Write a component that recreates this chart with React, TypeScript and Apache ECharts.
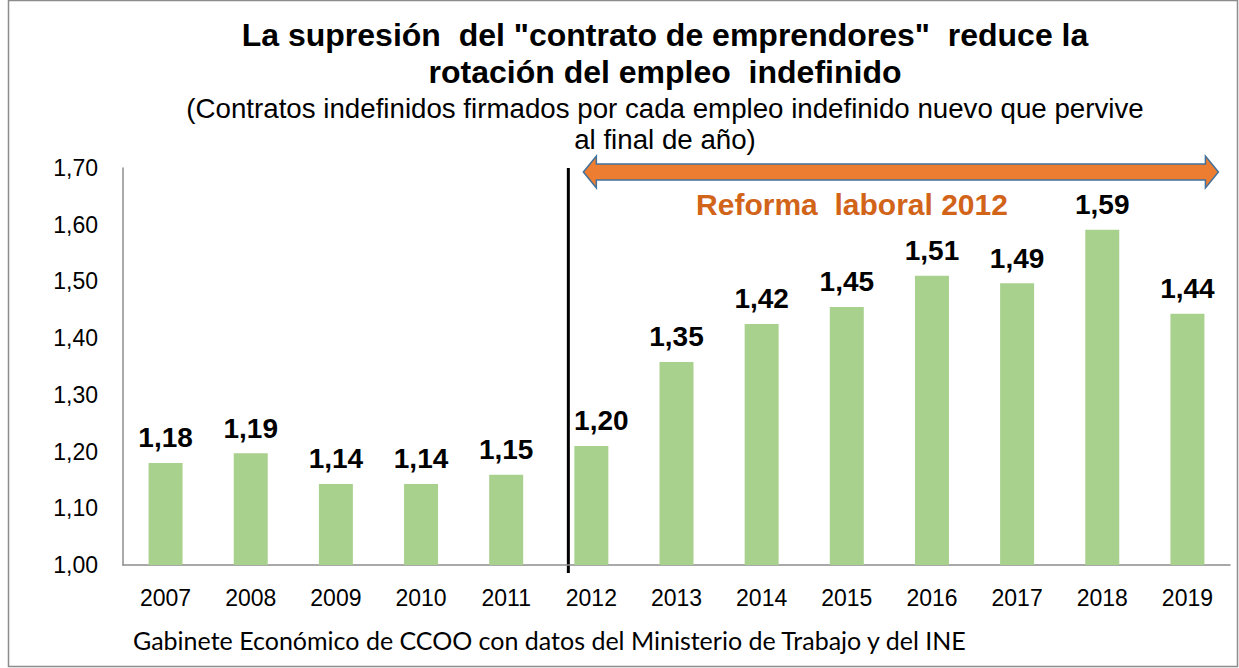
import React, { useEffect, useRef } from "react";
import * as echarts from "echarts";

const years = ["2007","2008","2009","2010","2011","2012","2013","2014","2015","2016","2017","2018","2019"];
const values = [1.18, 1.197, 1.143, 1.143, 1.159, 1.21, 1.358, 1.425, 1.455, 1.51, 1.497, 1.591, 1.443];
const valueLabels = ["1,18","1,19","1,14","1,14","1,15","1,20","1,35","1,42","1,45","1,51","1,49","1,59","1,44"];
const yTicks = { min: 1.0, max: 1.7, interval: 0.1 };
const titleLines = ['La supresión  del "contrato de emprendores"  reduce la', "rotación del empleo  indefinido"];
const subtitleLines = ["(Contratos indefinidos firmados por cada empleo indefinido nuevo que pervive", "al final de año)"];
const reformLabel = "Reforma  laboral 2012";
const sourceText = "Gabinete Económico de CCOO con datos del Ministerio de Trabajo y del INE";

const FONT = "'Liberation Sans', Arial, sans-serif";

export default function App() {
  const ref = useRef<HTMLDivElement>(null);
  useEffect(() => {
    if (!ref.current) return;
    const chart = echarts.init(ref.current, null, { renderer: "svg" });
    const fmt = (v: number) => v.toFixed(2).replace(".", ",");
    const barData = values.map((v, i) =>
      years[i] === "2012" ? { value: v, label: { offset: [10, 0] } } : v
    );
    chart.setOption({
      animation: false,
      grid: { left: 123, right: 9, top: 168, bottom: 103 },
      xAxis: {
        type: "category",
        data: years,
        axisLine: { lineStyle: { color: "#8c8c8c", width: 1.5 } },
        axisTick: { show: false },
        axisLabel: { color: "#000", fontSize: 23, fontFamily: FONT, margin: 21 },
      },
      yAxis: {
        type: "value",
        min: yTicks.min,
        max: yTicks.max,
        interval: yTicks.interval,
        axisLine: { show: true, lineStyle: { color: "#8c8c8c", width: 1.5 } },
        axisTick: { show: false },
        splitLine: { show: false },
        axisLabel: { color: "#000", fontSize: 23, fontFamily: FONT, margin: 25, formatter: (v: number) => fmt(v) },
      },
      series: [
        {
          type: "bar",
          data: barData,
          barWidth: 34,
          itemStyle: { color: "#A9D18E" },
          label: {
            show: true,
            position: "top",
            distance: 11,
            color: "#000",
            fontWeight: "bold",
            fontSize: 28,
            fontFamily: FONT,
            formatter: (p: any) => valueLabels[p.dataIndex],
          },
        },
      ],
    });

    const x2012 = chart.convertToPixel({ xAxisIndex: 0 }, "2012") as number;
    const x2019 = chart.convertToPixel({ xAxisIndex: 0 }, "2019") as number;
    const yTop = chart.convertToPixel({ yAxisIndex: 0 }, yTicks.max) as number;
    const yBase = chart.convertToPixel({ yAxisIndex: 0 }, yTicks.min) as number;
    const lineX = x2012 - 23;
    const aL = x2012 - 8;
    const aR = x2019 + 31;
    const cy = yTop + 4;
    const sh = 8, hh = 16, hl = 13;

    chart.setOption({
      graphic: [
        { type: "rect", shape: { x: 8.5, y: 0.5, width: 1229, height: 666 }, style: { fill: "none", stroke: "#8c8c8c", lineWidth: 1.5 }, silent: true },
        { type: "text", x: 665, y: 35, style: { text: titleLines[0], font: `bold 32px ${FONT}`, fill: "#000", align: "center", verticalAlign: "middle" } },
        { type: "text", x: 665, y: 72, style: { text: titleLines[1], font: `bold 32px ${FONT}`, fill: "#000", align: "center", verticalAlign: "middle" } },
        { type: "text", x: 665, y: 108, style: { text: subtitleLines[0], font: `27.7px ${FONT}`, fill: "#000", align: "center", verticalAlign: "middle" } },
        { type: "text", x: 665, y: 139, style: { text: subtitleLines[1], font: `27.7px ${FONT}`, fill: "#000", align: "center", verticalAlign: "middle" } },
        { type: "line", shape: { x1: lineX, y1: yTop, x2: lineX, y2: yBase + 8 }, style: { stroke: "#000", lineWidth: 3 } },
        {
          type: "polygon",
          shape: {
            points: [
              [aL, cy], [aL + hl, cy - hh], [aL + hl, cy - sh], [aR - hl, cy - sh], [aR - hl, cy - hh],
              [aR, cy], [aR - hl, cy + hh], [aR - hl, cy + sh], [aL + hl, cy + sh], [aL + hl, cy + hh],
            ],
          },
          style: { fill: "#ED7D31", stroke: "#41719C", lineWidth: 1.5 },
        },
        { type: "text", x: 852, y: 204, style: { text: reformLabel, font: `bold 30px ${FONT}`, fill: "#D2641A", align: "center", verticalAlign: "middle" } },
        { type: "text", x: 133, y: 640, style: { text: sourceText, font: `25px Lato, 'Open Sans', sans-serif`, fill: "#000", align: "left", verticalAlign: "middle" } },
      ],
    });
    return () => chart.dispose();
  }, []);
  return <div ref={ref} style={{ position: "fixed", left: 0, top: 0, width: 1239, height: 668, background: "#fff" }} />;
}
